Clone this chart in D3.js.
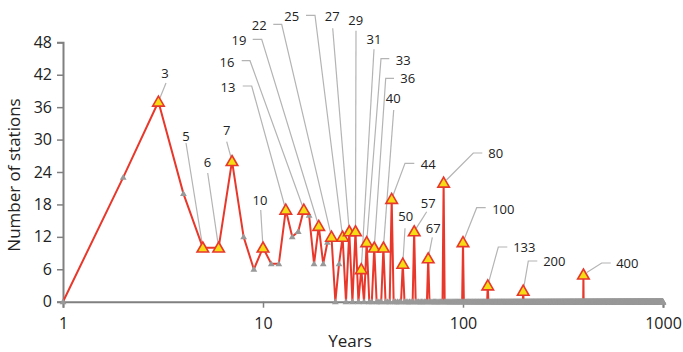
<!DOCTYPE html>
<html>
<head>
<meta charset="utf-8">
<script src="https://cdn.jsdelivr.net/npm/d3@7"></script>
<style>
  body { margin: 0; background: #fff; }
  svg { display: block; font-family: "Open Sans", sans-serif; }
</style>
</head>
<body>
<div id="chart"></div>
<script>
// years with a non-zero count (every other year 1..1000 is 0)
const years  = [2, 3, 4, 5, 6, 7, 8, 9, 10, 11, 12, 13, 14, 15, 16, 17, 18, 19, 20, 21, 22, 24, 25, 27, 29, 31, 33, 36, 40, 44, 50, 57, 67, 80, 100, 133, 200, 400]
const counts = [23, 37, 20, 10, 10, 26, 12, 6, 10, 7, 7, 17, 12, 13, 17, 16, 7, 14, 7, 11, 12, 7, 12, 13, 13, 6, 11, 10, 10, 19, 7, 13, 8, 22, 11, 3, 2, 5]
const labelled = [3, 5, 6, 7, 10, 13, 16, 19, 22, 25, 27, 29, 31, 33, 36, 40, 44, 50, 57, 67, 80, 100, 133, 200, 400]
const yTicks = [0, 6, 12, 18, 24, 30, 36, 42, 48]
const xTicks = [1, 10, 100, 1000]
const lastYear = 1000

// label placement: [year, text x, text y, leader x, leader y, elbow x]
const labelPos = [
    [3, 165, 73, 166, 83, null],
    [5, 186, 136, 186, 143, null],
    [6, 207.5, 162, 207.7, 173, null],
    [7, 226.7, 130.7, 226.7, 141.7, null],
    [10, 260, 200, 260.7, 210, null],
    [13, 228, 87, 242.7, 86, 251.7],
    [16, 227, 62, 241.7, 60.7, 250],
    [19, 239, 40, 252.7, 39.3, 261.7],
    [22, 259.3, 25.7, 273.3, 24.3, 281.7],
    [25, 291.7, 16.7, 306, 15.3, 315],
    [27, 332.3, 16.7, 332.7, 28.3, null],
    [29, 355.7, 20, 356, 30.7, null],
    [31, 374, 39, 374, 49.3, null],
    [33, 403.3, 60, 389.3, 58.7, 381],
    [36, 407.7, 78.7, 394, 78.3, 385.7],
    [40, 393.3, 98.7, 393.7, 110, null],
    [44, 428.3, 164, 414.3, 163.3, 405],
    [50, 405.7, 216.7, 405, 228.3, null],
    [57, 428.3, 203.3, 426.7, 211.7, null],
    [67, 433.3, 228.7, 432.3, 237.3, null],
    [80, 495.7, 153.3, 482.3, 153, 473.3],
    [100, 503.3, 209, 485.7, 207.7, 476.7],
    [133, 524.3, 247.7, 507.3, 247, 498.3],
    [200, 554.3, 261.7, 537.3, 261, 528.3],
    [400, 627.3, 263.3, 610.7, 263, 601.7]
]

const W = 683, H = 352
const countOf = new Map(years.map((y, i) => [y, counts[i]]))
const series = d3.range(1, lastYear + 1).map(y => ({year: y, count: countOf.get(y) || 0}))

const x = d3.scaleLog().domain([1, 1000]).range([63, 663])
const y = d3.scaleLinear().domain([0, 48]).range([301.7, 42.3])

const svg = d3.select("#chart").append("svg").attr("width", W).attr("height", H)

const axisColor = "#808080"

// y axis
const yAxis = svg.append("g").attr("transform", `translate(${x(1)},0)`)
    .call(d3.axisLeft(y).tickValues(yTicks).tickSize(6).tickPadding(5))
yAxis.select(".domain").attr("stroke", axisColor).attr("stroke-width", 2)
yAxis.selectAll(".tick line").attr("stroke", axisColor).attr("stroke-width", 1.5)
yAxis.selectAll(".tick text").attr("font-size", 16).attr("fill", "#222")
    .attr("font-family", "Open Sans, sans-serif")

// x axis
const xAxis = svg.append("g").attr("transform", `translate(0,${y(0)})`)
    .call(d3.axisBottom(x).tickValues(xTicks).tickFormat(d3.format("d")).tickSize(6).tickPadding(10))
xAxis.select(".domain").attr("stroke", axisColor).attr("stroke-width", 2)
xAxis.selectAll(".tick line").attr("stroke", axisColor).attr("stroke-width", 1.5)
xAxis.selectAll(".tick text").attr("font-size", 16).attr("fill", "#222")
    .attr("font-family", "Open Sans, sans-serif")

svg.append("text")
    .attr("x", 350).attr("y", 347)
    .attr("text-anchor", "middle")
    .attr("font-size", 17).attr("fill", "#222")
    .text("Years")

svg.append("text")
    .attr("transform", "translate(20,175) rotate(-90)")
    .attr("text-anchor", "middle")
    .attr("font-size", 17).attr("fill", "#222")
    .text("Number of stations")

// leader lines
const leaders = svg.append("g").attr("fill", "none").attr("stroke", "#b4b4b4").attr("stroke-width", 1.2)
labelPos.forEach(([yr, tx, ty, lx, ly, ex]) => {
    const px = x(yr), py = y(countOf.get(yr))
    const sx = ex == null ? lx : ex
    const dx = sx - px, dy = ly - py, len = Math.hypot(dx, dy)
    const endX = px + dx / len * 4, endY = py + dy / len * 4
    const pts = ex == null ? [[lx, ly], [endX, endY]] : [[lx, ly], [ex, ly], [endX, endY]]
    leaders.append("path").attr("d", d3.line()(pts))
})

// red line
svg.append("path")
    .datum(series)
    .attr("fill", "none")
    .attr("stroke", "#e8382b")
    .attr("stroke-width", 2)
    .attr("stroke-linejoin", "round")
    .attr("d", d3.line().x(d => x(d.year)).y(d => y(d.count)))

const tri = (s) => d3.symbol().type(d3.symbolTriangle).size(s)()

// small grey markers
svg.append("g").selectAll("path")
    .data(series.filter(d => !labelled.includes(d.year)))
    .join("path")
    .attr("transform", d => `translate(${x(d.year)},${y(d.count) + 0.5})`)
    .attr("d", tri(20))
    .attr("fill", "#999999")

// labelled markers
svg.append("g").selectAll("path")
    .data(series.filter(d => labelled.includes(d.year)))
    .join("path")
    .attr("transform", d => `translate(${x(d.year)},${y(d.count) + 1})`)
    .attr("d", tri(58))
    .attr("fill", "#f5dc14")
    .attr("stroke", "#e8382b")
    .attr("stroke-width", 1.6)
    .attr("stroke-linejoin", "miter")

// data labels
svg.append("g").selectAll("text")
    .data(labelPos)
    .join("text")
    .attr("x", d => d[1]).attr("y", d => d[2])
    .attr("dy", "0.35em")
    .attr("text-anchor", "middle")
    .attr("font-size", 13).attr("fill", "#222")
    .text(d => d[0])
</script>
</body>
</html>
